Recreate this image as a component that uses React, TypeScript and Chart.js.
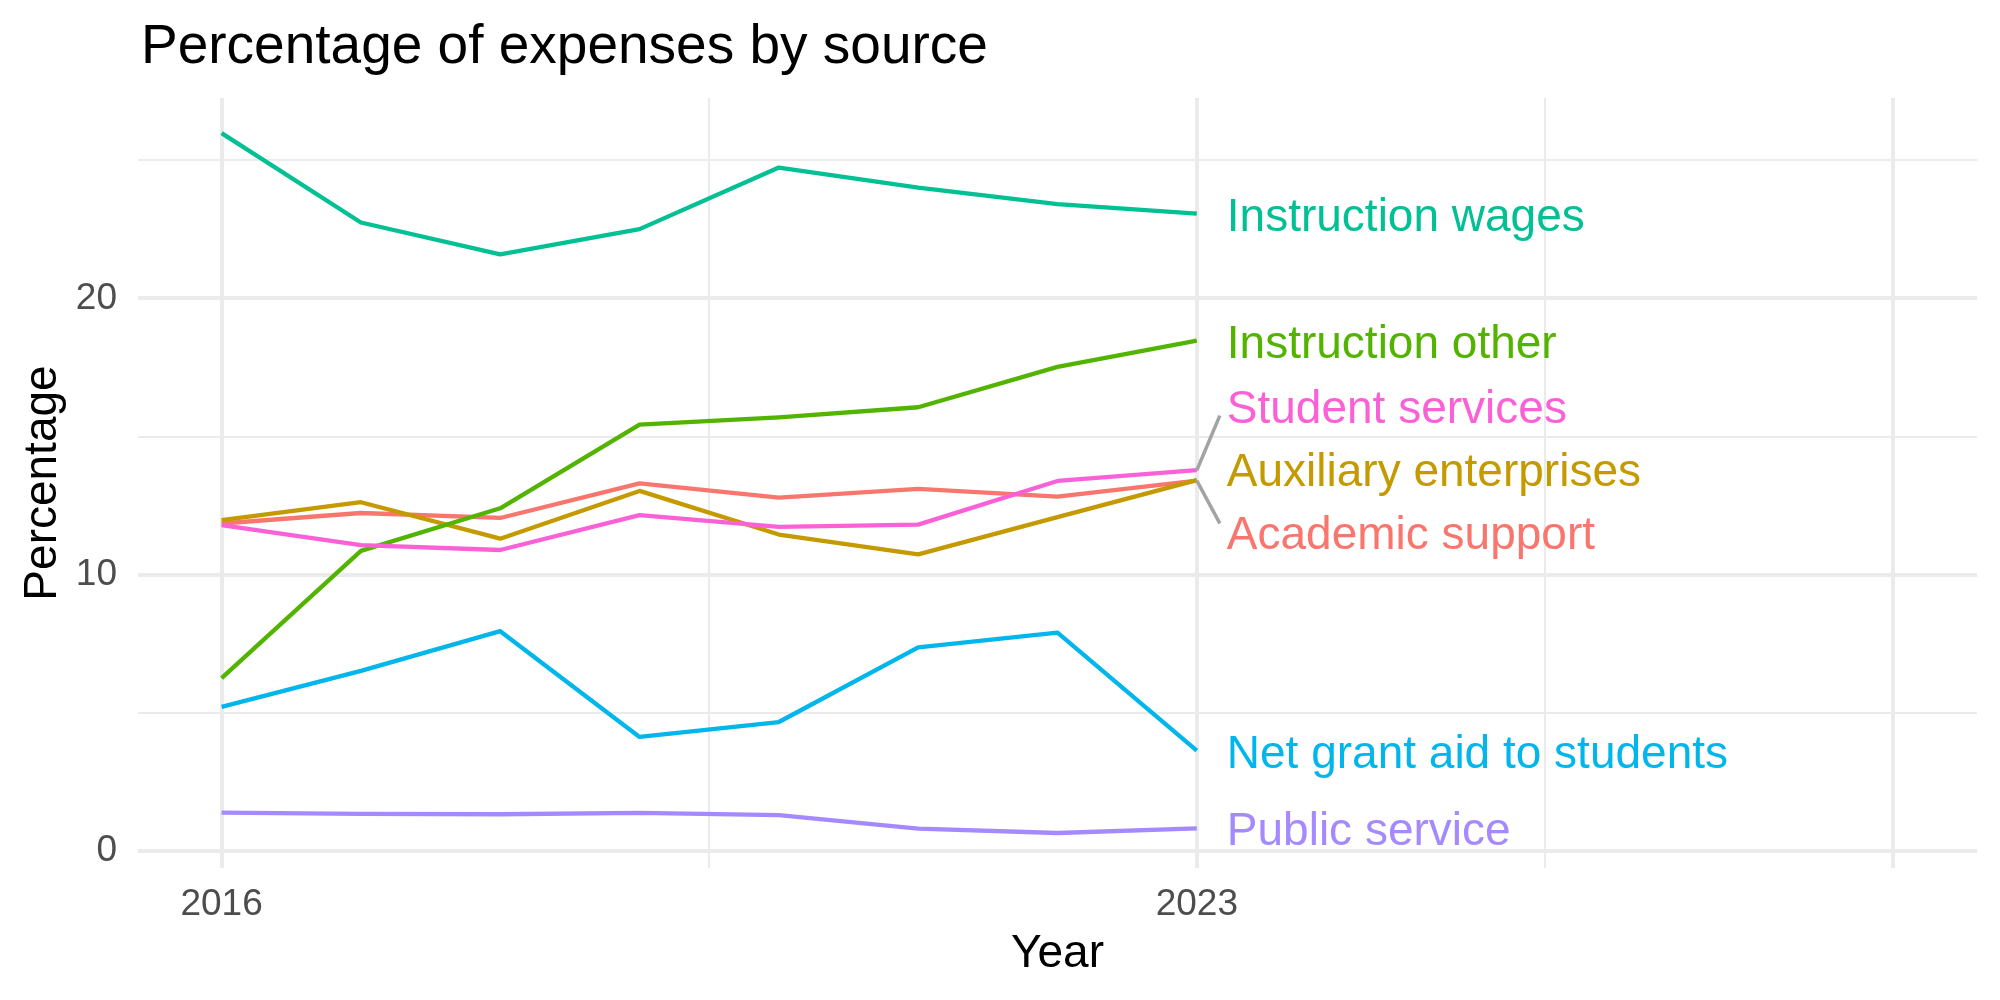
import React, { useEffect, useRef } from "react";
import { Chart, registerables } from "chart.js";

Chart.register(...registerables);

const years = [2016, 2017, 2018, 2019, 2020, 2021, 2022, 2023];

const seriesNames = [
  "Academic support",
  "Auxiliary enterprises",
  "Instruction other",
  "Instruction wages",
  "Net grant aid to students",
  "Public service",
  "Student services",
];

const academicSupport = [11.85, 12.23, 12.05, 13.3, 12.79, 13.1, 12.82, 13.4];
const auxiliaryEnterprises = [11.97, 12.62, 11.3, 13.03, 11.45, 10.73, 12.08, 13.42];
const instructionOther = [6.25, 10.86, 12.4, 15.43, 15.69, 16.06, 17.52, 18.47];
const instructionWages = [25.99, 22.75, 21.6, 22.51, 24.74, 24.01, 23.42, 23.07];
const netGrantAid = [5.21, 6.51, 7.95, 4.12, 4.66, 7.36, 7.9, 3.62];
const publicService = [1.38, 1.33, 1.32, 1.37, 1.29, 0.8, 0.64, 0.81];
const studentServices = [11.79, 11.07, 10.89, 12.15, 11.73, 11.81, 13.39, 13.78];

const seriesValues = [
  academicSupport,
  auxiliaryEnterprises,
  instructionOther,
  instructionWages,
  netGrantAid,
  publicService,
  studentServices,
];

const seriesColors = ["#F8766D", "#C49A00", "#53B400", "#00C094", "#00B6EB", "#A58AFF", "#FB61D7"];

// repelled label positions (data units, label vertical centre)
const labelY = [11.51, 13.79, 18.45, 23.04, 3.58, 0.81, 16.1];
const labelSegment = [true, false, false, false, false, false, true];

const xTicks = [2016, 2019.5, 2023, 2025.5, 2028];
const xTickLabels = ["2016", "", "2023", "", ""];
const xMajor = [true, false, true, false, true];
const yTicks = [0, 5, 10, 15, 20, 25];
const yTickLabels = ["0", "", "10", "", "20", ""];
const yMajor = [true, false, true, false, true, false];

const FONT = "'Liberation Sans', Arial, Helvetica, sans-serif";

const decorPlugin = {
  id: "decor",
  afterDatasetsDraw(chart: any) {
    const ctx = chart.ctx;
    const xs = chart.scales.x;
    const ys = chart.scales.y;
    ctx.save();
    const lastX = xs.getPixelForValue(years[years.length - 1]);
    const lx = lastX + 30;
    ctx.font = `46px ${FONT}`;
    ctx.textAlign = "left";
    ctx.textBaseline = "alphabetic";
    seriesNames.forEach((name, i) => {
      const vals = seriesValues[i];
      const py = ys.getPixelForValue(vals[vals.length - 1]);
      const ly = ys.getPixelForValue(labelY[i]);
      if (labelSegment[i]) {
        ctx.strokeStyle = "#A3A3A3";
        ctx.lineWidth = 3.5;
        ctx.lineCap = "butt";
        ctx.beginPath();
        ctx.moveTo(lastX, py);
        ctx.lineTo(lx - 7, ly + (py > ly ? 9.5 : -9.5));
        ctx.stroke();
      }
      ctx.fillStyle = seriesColors[i];
      ctx.fillText(name, lx, ly + 16.5);
    });
    ctx.restore();
  },
  afterDraw(chart: any) {
    const ctx = chart.ctx;
    const area = chart.chartArea;
    ctx.save();
    ctx.fillStyle = "#000000";
    ctx.textBaseline = "alphabetic";
    ctx.font = `55px ${FONT}`;
    ctx.textAlign = "left";
    ctx.fillText("Percentage of expenses by source", area.left + 3, 63);
    ctx.font = `46px ${FONT}`;
    ctx.textAlign = "center";
    ctx.fillText("Year", (area.left + area.right) / 2, 967);
    ctx.translate(56, (area.top + area.bottom) / 2);
    ctx.rotate(-Math.PI / 2);
    ctx.fillText("Percentage", 0, 0);
    ctx.restore();
  },
};

export default function App() {
  const canvasRef = useRef<HTMLCanvasElement | null>(null);

  useEffect(() => {
    const canvas = canvasRef.current;
    if (!canvas) return;
    const datasets = seriesNames.map((name, i) => ({
      label: name,
      data: years.map((y, j) => ({ x: y, y: seriesValues[i][j] })),
      borderColor: seriesColors[i],
      backgroundColor: seriesColors[i],
      borderWidth: 4.3,
      pointRadius: 0,
      tension: 0,
      fill: false,
      order: seriesNames.length - i,
      borderJoinStyle: "round" as const,
    }));
    const chart = new Chart(canvas, {
      type: "line",
      data: { datasets },
      plugins: [decorPlugin],
      options: {
        animation: false,
        responsive: false,
        devicePixelRatio: 1,
        layout: { padding: { left: 0, right: 23, top: 98, bottom: 0 } },
        plugins: {
          legend: { display: false },
          tooltip: { enabled: false },
          title: { display: false },
        },
        scales: {
          x: {
            type: "linear",
            min: 2015.4,
            max: 2028.6,
            afterBuildTicks: (scale: any) => {
              scale.ticks = xTicks.map((v) => ({ value: v }));
            },
            afterFit: (scale: any) => {
              scale.height = 132;
            },
            grid: {
              color: "#EBEBEB",
              lineWidth: (c: any) => (xMajor[xTicks.indexOf(c.tick?.value)] ? 4 : 2),
              drawTicks: false,
            },
            border: { display: false },
            ticks: {
              autoSkip: false,
              maxRotation: 0,
              padding: 15,
              color: "#4D4D4D",
              font: { family: FONT, size: 37 },
              callback: (v: any) => {
                const k = xTicks.indexOf(Number(v));
                return k >= 0 ? xTickLabels[k] : "";
              },
            },
          },
          y: {
            type: "linear",
            min: -0.627,
            max: 27.26,
            afterBuildTicks: (scale: any) => {
              scale.ticks = yTicks.map((v) => ({ value: v }));
            },
            afterFit: (scale: any) => {
              scale.width = 138;
            },
            grid: {
              color: "#EBEBEB",
              lineWidth: (c: any) => (yMajor[yTicks.indexOf(c.tick?.value)] ? 4 : 2),
              drawTicks: false,
            },
            border: { display: false },
            ticks: {
              autoSkip: false,
              padding: 21,
              color: "#4D4D4D",
              font: { family: FONT, size: 37 },
              callback: (v: any) => {
                const k = yTicks.indexOf(Number(v));
                return k >= 0 ? yTickLabels[k] : "";
              },
            },
          },
        },
      },
    });
    return () => chart.destroy();
  }, []);

  return (
    <div style={{ position: "fixed", left: 0, top: 0, width: 2000, height: 1000, background: "#ffffff" }}>
      <canvas ref={canvasRef} width={2000} height={1000} style={{ width: 2000, height: 1000, display: "block" }} />
    </div>
  );
}
